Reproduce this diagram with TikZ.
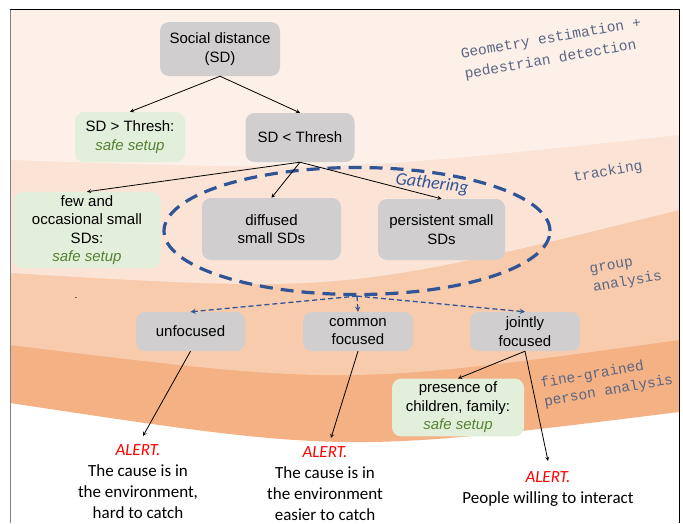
\documentclass[tikz,border=0pt]{standalone}
\usepackage{fontspec}
\setmainfont{Liberation Sans}
\setmonofont{Liberation Mono}
\newfontfamily\calfont{Carlito}
\usetikzlibrary{shapes.geometric, arrows}
\definecolor{bandA}{HTML}{FDF0E8}
\definecolor{bandB}{HTML}{FBE4D5}
\definecolor{bandC}{HTML}{F8CBAD}
\definecolor{bandD}{HTML}{F4B183}
\definecolor{boxgray}{HTML}{D0CECE}
\definecolor{boxgreen}{HTML}{E2EFDA}
\definecolor{safegreen}{HTML}{548235}
\definecolor{gatherblue}{HTML}{2F5597}
\definecolor{labelgray}{HTML}{5A6684}
\tikzstyle{arrow} = [line width=0.8pt,->,>=stealth]
\tikzstyle{dasharrow} = [gatherblue,line width=1.3pt,dash pattern=on 5pt off 3pt,->,>=stealth]
\tikzstyle{greybox} = [rectangle, rounded corners=9pt, fill=boxgray, align=center, font=\fontsize{15}{18.5}\selectfont]
\tikzstyle{greenbox} = [greybox, fill=boxgreen]
\tikzstyle{layer} = [font=\ttfamily\fontsize{14.5}{19}\selectfont, text=labelgray, rotate=10, align=left]
\tikzstyle{alert} = [align=center, font=\calfont\fontsize{17}{21}\selectfont]
\newcommand{\safe}{\textcolor{safegreen}{\itshape safe setup}}
\newcommand{\alerttext}{\textcolor{red}{\itshape ALERT.}}

\begin{document}
\begin{tikzpicture}[x=1pt,y=-1pt]
    \useasboundingbox (0,0) rectangle (683,523);
    % Bands
    \begin{scope}
    \clip (10,9) rectangle (679,523);
    \fill[bandD] (10,9) -- (10,403) .. controls (345,453.5) .. (679,412) -- (679,9) -- cycle;
    \fill[bandC] (10,9) -- (10,345) .. controls (345,386) .. (679,340) -- (679,9) -- cycle;
    \fill[bandB] (10,9) -- (10,273) .. controls (345,293) .. (679,210) -- (679,9) -- cycle;
    \fill[bandA] (10,9) -- (10,160) .. controls (345,171) .. (679,135) -- (679,9) -- cycle;
    \end{scope}
    % Frame
    \draw[gray] (10,9) -- (10,523);
    \draw (10,9) -- (679,9) -- (679,523);

    % Band labels
    \node[layer, font=\ttfamily\fontsize{14.5}{21}\selectfont] (geom) at (553,49) {Geometry estimation +\\pedestrian detection};
    \node[layer] (track) at (608,172) {tracking};
    \node[layer] (group) at (626,274) {group\\analysis};
    \node[layer] (fine) at (607,382) {fine-grained\\person analysis};

    % Nodes
    \node[greybox, minimum width=120pt, minimum height=54pt] (sd) at (220,49) {Social distance\\(SD)};
    \node[greenbox, minimum width=110pt, minimum height=50pt] (above) at (130,137) {SD > Thresh:\\\safe};
    \node[greybox, minimum width=109pt, minimum height=49pt] (below) at (300,137.5) {SD < Thresh};
    \node[greenbox, minimum width=147pt, minimum height=75pt] (few) at (87,230) {few and\\occasional small\\SDs:\\\safe};
    \node[greybox, minimum width=139pt, minimum height=62pt] (diffused) at (271.5,229) {diffused\\small SDs};
    \node[greybox, minimum width=127pt, minimum height=61pt] (persist) at (441.5,229.5) {persistent small\\SDs};
    \node[greybox, minimum width=109pt, minimum height=39pt] (unf) at (190.5,331.5) {unfocused};
    \node[greybox, minimum width=110pt, minimum height=39pt] (common) at (358,331.5) {common\\focused};
    \node[greybox, minimum width=110pt, minimum height=39pt] (jointly) at (525,331.5) {jointly\\focused};
    \node[greenbox, minimum width=132pt, minimum height=55pt] (presence) at (458,407.5) {presence of\\children, family:\\\safe};
    \node[font=\fontsize{10}{12}\selectfont] (dot) at (76,298) {.};

    % Gathering
    \node[ellipse, draw=gatherblue, line width=3.2pt, dash pattern=on 13pt off 8pt, minimum width=386pt, minimum height=127pt, inner sep=0pt] (gather) at (357,231) {};
    \node[text=gatherblue, font=\calfont\itshape\fontsize{18}{20}\selectfont, rotate=-7] (gathlabel) at (432,184) {Gathering};

    % Alerts
    \node[alert] (alert1) at (138,482) {\alerttext\\The cause is in\\the environment,\\hard to catch};
    \node[alert] (alert2) at (325,484) {\alerttext\\The cause is in\\the environment\\easier to catch};
    \node[alert] (alert3) at (548,489) {\alerttext\\People willing to interact};
    \coordinate (tip1) at (143,436);
    \coordinate (tip2) at (331,438);
    \coordinate (tip3) at (548,461);

    % Edges
    \draw[arrow] (sd.south) -- (above.north);
    \draw[arrow] (sd.south) -- (below.north);
    \draw[arrow] (below.south) -- (few.north);
    \draw[arrow] (below.south) -- (diffused.north);
    \draw[arrow] (below.south) -- (persist.north);
    \draw[dasharrow] (gather.south) -- (unf.north);
    \draw[dasharrow] (gather.south) -- (common.north);
    \draw[dasharrow] (gather.south) -- (jointly.north);
    \draw[arrow] (unf.south) -- (tip1);
    \draw[arrow] (common.south) -- (tip2);
    \draw[arrow] (jointly.south) -- (presence.north);
    \draw[arrow] (jointly.south) -- (tip3);
\end{tikzpicture}
\end{document}
